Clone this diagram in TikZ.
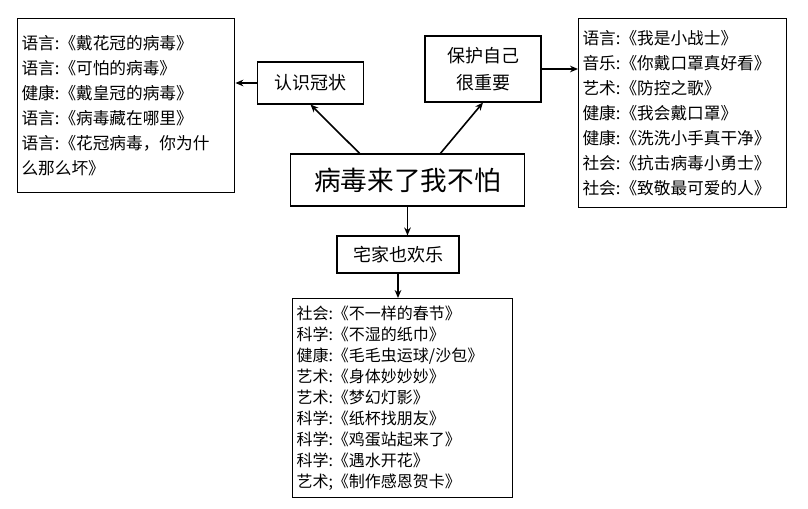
\documentclass[tikz,border=0pt]{standalone}
\usepackage{fontspec}
\newfontfamily\cjk{Noto Sans CJK SC}
\usetikzlibrary{arrows.meta}
\tikzset{
  list/.style={draw,thick,anchor=north west,align=left,inner xsep=3pt,font=\cjk\fontsize{12.5}{18.75}\selectfont},
  tag/.style={draw,thick,font=\cjk\fontsize{13.5}{16}\selectfont,align=center},
  link/.style={-{Stealth[length=6pt,width=5pt]},line width=1.2pt}
}
\begin{document}
\begin{tikzpicture}[x=0.75pt,y=-0.75pt]
	\useasboundingbox (0,0) rectangle (808,509);

	\node[list,text width=157pt,minimum height=130.5pt] (know) at (17,18) {语言:《戴花冠的病毒》\\语言:《可怕的病毒》\\健康:《戴皇冠的病毒》\\语言:《病毒藏在哪里》\\语言:《花冠病毒，你为什\\么那么坏》};
	\node[list,text width=150pt,minimum height=141.75pt] (safe) at (578,18) {语言:《我是小战士》\\音乐:《你戴口罩真好看》\\艺术:《防控之歌》\\健康:《我会戴口罩》\\健康:《洗洗小手真干净》\\社会:《抗击病毒小勇士》\\社会:《致敬最可爱的人》};
	\node[list,text width=159pt,minimum height=149pt,font=\cjk\fontsize{12}{15.75}\selectfont] (home) at (292,298) {社会:《不一样的春节》\\科学:《不湿的纸巾》\\健康:《毛毛虫运球/沙包》\\艺术:《身体妙妙妙》\\艺术:《梦幻灯影》\\科学:《纸杯找朋友》\\科学:《鸡蛋站起来了》\\科学:《遇水开花》\\艺术;《制作感恩贺卡》};

	\node[tag,minimum width=176pt,minimum height=39pt,font=\cjk\fontsize{20}{22}\selectfont] (main) at (407.5,180) {病毒来了我不怕};
	\node[tag,minimum width=79pt,minimum height=31.5pt] (ill) at (310.5,83) {认识冠状};
	\node[tag,minimum width=87pt,minimum height=49.5pt,font=\cjk\fontsize{13.5}{20}\selectfont] (guard) at (483,69) {保护自己\\很重要};
	\node[tag,minimum width=91.5pt,minimum height=27.75pt] (fun) at (398,254.5) {宅家也欢乐};

	\draw[link] (main.north west) ++(70,0) -- (ill.south);
	\draw[link] (main.north east) ++(-85,0) -- (guard.south);
	\draw[link] (ill) -- (know.east |- ill);
	\draw[link] (guard) -- (safe.west |- guard);
	\draw[link] (main.south) -- (fun.north -| main.south);
	\draw[link] (fun.south) -- (home.north -| fun.south);
\end{tikzpicture}
\end{document}
